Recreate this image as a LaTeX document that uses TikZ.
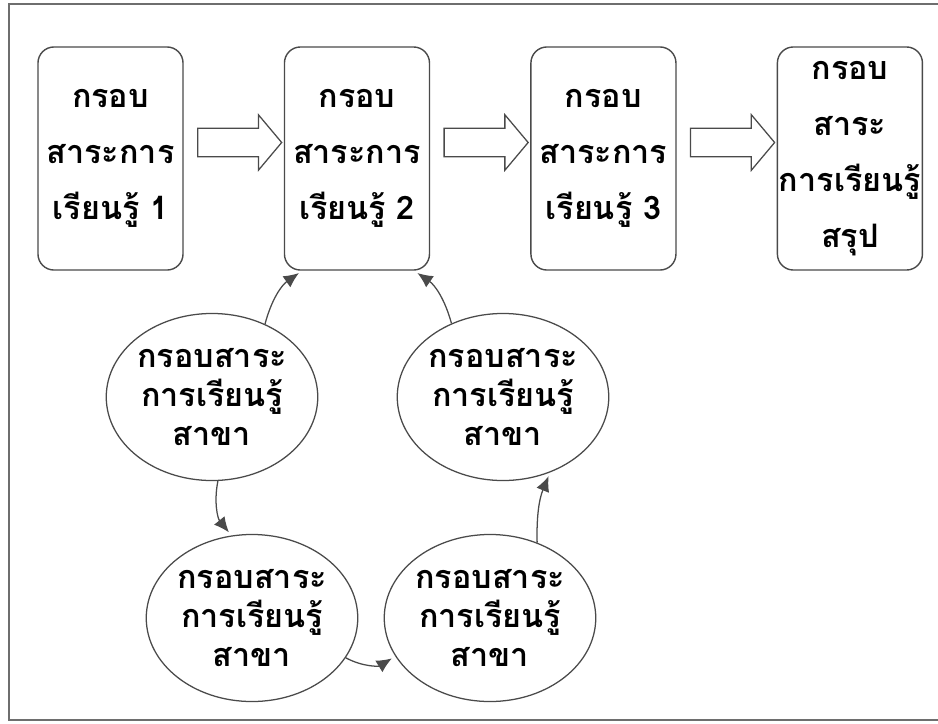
\documentclass[tikz,border=0pt]{standalone}
\usepackage{fontspec}
\newfontfamily\thaifont[Script=Thai]{Loma}
\usetikzlibrary{arrows.meta,positioning,calc,shapes.geometric,shapes.arrows}
\definecolor{FrameGray}{HTML}{6E6E6E}
\definecolor{EdgeGray}{HTML}{4A4A4A}
\newcommand{\unitfont}{\thaifont\bfseries\fontsize{23}{40}\selectfont}
\newcommand{\branchfont}{\thaifont\bfseries\fontsize{23}{28}\selectfont}
\tikzset{
  unit/.style={rectangle, rounded corners=0.4cm, draw=EdgeGray, line width=1pt,
               minimum width=3.625cm, minimum height=5.575cm, align=center,
               inner sep=0pt, font=\unitfont},
  branch/.style={ellipse, draw=EdgeGray, line width=0.9pt, minimum width=5.05cm,
                 minimum height=4.175cm, align=center, inner sep=0pt, font=\branchfont},
  bigarrow/.style={single arrow, draw=EdgeGray, line width=0.9pt, minimum height=2.1cm,
                   inner xsep=0pt, inner ysep=0.3375cm, single arrow head extend=0.34cm,
                   single arrow tip angle=100},
  link/.style={-{Latex[length=3.8mm,width=3.4mm]}, line width=0.9pt, draw=EdgeGray,
               shorten >=1mm},
}
\begin{document}
\begin{tikzpicture}[x=0.025cm,y=-0.025cm,node distance=2.5cm]
    \useasboundingbox (0,0) rectangle (938,723);
    \draw[FrameGray, line width=1.2pt] (938,4) -| (9,720) -- (938,720);
    % top row
    \node[unit] (unit1) at (110.5,158.5) {กรอบ\\สาระการ\\เรียนรู้ 1};
    \node[unit,right=of unit1] (unit2) {กรอบ\\สาระการ\\เรียนรู้ 2};
    \node[unit,right=of unit2] (unit3) {กรอบ\\สาระการ\\เรียนรู้ 3};
    \node[unit,right=of unit3] (summary) {กรอบ\\สาระ\\การเรียนรู้\\สรุป};
    \node[bigarrow] (step1) at ($(unit1.east)!0.5!(unit2.west)+(0,-16)$) {};
    \node[bigarrow] (step2) at ($(unit2.east)!0.5!(unit3.west)+(0,-16)$) {};
    \node[bigarrow] (step3) at ($(unit3.east)!0.5!(summary.west)+(0,-16)$) {};
    % branch cycle
    \node[branch] (branchA) at (212,397) {กรอบสาระ\\การเรียนรู้\\สาขา};
    \node[branch] (branchB) at (252,618) {กรอบสาระ\\การเรียนรู้\\สาขา};
    \node[branch] (branchC) at (490,618) {กรอบสาระ\\การเรียนรู้\\สาขา};
    \node[branch] (branchD) at (503,397) {กรอบสาระ\\การเรียนรู้\\สาขา};
    \draw[link] (branchA.54) to[bend left=20] (unit2.-116);
    \draw[link] (branchD.125) to[bend right=20] (unit2.-63);
    \draw[link] (branchA.-86) to[bend right=25] (branchB.104);
    \draw[link] (branchB.-23) to[bend right=30] (branchC.202);
    \draw[link] (branchC.58) to[bend left=12] (branchD.-58);
\end{tikzpicture}
\end{document}
